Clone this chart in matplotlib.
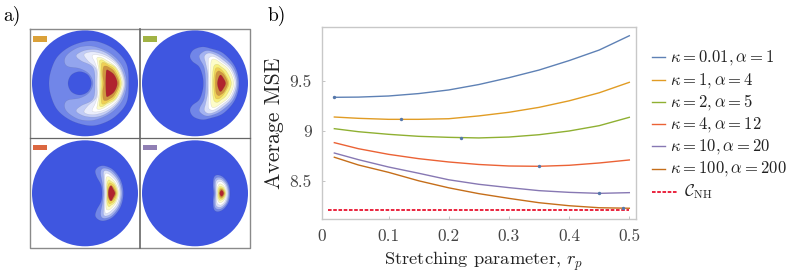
"""MSE curves vs stretching parameter, with the four filter maps on the left."""

import matplotlib
matplotlib.use("Agg")
import matplotlib.pyplot as plt
import numpy as np
from matplotlib.patches import Polygon, Rectangle

plt.rcParams["font.family"] = "cmr10"
plt.rcParams["mathtext.fontset"] = "cm"

# panel b data
rp = [0.01, 0.05, 0.1, 0.15, 0.2, 0.25, 0.3, 0.35, 0.4, 0.45, 0.5]
mse_k001 = [9.335, 9.337, 9.348, 9.372, 9.408, 9.462, 9.53, 9.606, 9.70, 9.805, 9.947]
mse_k1 = [9.139, 9.126, 9.116, 9.116, 9.122, 9.150, 9.186, 9.235, 9.30, 9.38, 9.484]
mse_k2 = [9.023, 8.993, 8.967, 8.947, 8.937, 8.931, 8.94, 8.963, 9.0, 9.053, 9.136]
mse_k4 = [8.884, 8.824, 8.768, 8.725, 8.692, 8.667, 8.652, 8.649, 8.659, 8.682, 8.712]
mse_k10 = [8.781, 8.715, 8.642, 8.58, 8.515, 8.47, 8.437, 8.407, 8.39, 8.38, 8.387]
mse_k100 = [8.739, 8.662, 8.589, 8.505, 8.435, 8.377, 8.33, 8.287, 8.257, 8.237, 8.232]
mse_nh = [8.215, 8.215]
rp_nh = [0.0, 0.5]
best_rp = [0.01, 0.12, 0.22, 0.35, 0.45, 0.49]
best_mse = [9.335, 9.116, 8.93, 8.649, 8.38, 8.235]

series = [mse_k001, mse_k1, mse_k2, mse_k4, mse_k10, mse_k100]
labels = [
    r"$\kappa = 0.01, \alpha = 1$",
    r"$\kappa = 1, \alpha = 4$",
    r"$\kappa = 2, \alpha = 5$",
    r"$\kappa = 4, \alpha = 12$",
    r"$\kappa = 10, \alpha = 20$",
    r"$\kappa = 100, \alpha = 200$",
]
colors = ["#5e81b5", "#e19c24", "#8fb032", "#eb6235", "#8778b3", "#c56e1a"]

# panel a contours: upper half outlines, offsets from circle centre (R = 159)
disc_a = [(131, 0), (125, 57), (94, 97), (54, 120), (12, 127), (-41, 112), (-81, 82), (-101, 42), (-108, 0)]
hole_a = [(19, 0), (9, 25), (-16, 35), (-41, 25), (-51, 0)]
contours_a = [
    [(125, 0), (113, 50), (79, 88), (30, 110), (-11, 110), (-40, 97), (-58, 80), (-61, 62), (-50, 50), (-15, 44), (12, 28), (24, 0)],
    [(121, 0), (106, 50), (74, 84), (40, 100), (5, 100), (-20, 90), (-26, 80), (-11, 67), (24, 47), (30, 0)],
    [(118, 0), (102, 50), (70, 80), (35, 93), (10, 93), (-3, 85), (9, 67), (34, 42), (35, 0)],
    [(116, 0), (99, 48), (66, 76), (40, 85), (24, 85), (22, 78), (30, 62), (38, 35), (39, 0)],
    [(113, 0), (96, 45), (63, 70), (45, 78), (36, 76), (37, 65), (42, 35), (43, 0)],
    [(109, 0), (93, 45), (65, 62), (52, 70), (44, 68), (44, 55), (47, 0)],
    [(105, 0), (90, 40), (70, 55), (58, 62), (50, 60), (49, 40), (51, 0)],
    [(102, 0), (88, 35), (72, 48), (62, 52), (55, 48), (53, 25), (56, 0)],
    [(97, 0), (88, 25), (72, 38), (65, 40), (63, 30), (62, 0)],
]
contours_b = [
    [(132, 0), (120, 50), (85, 90), (45, 105), (20, 109), (-5, 100), (-15, 82), (-8, 66), (12, 50), (22, 25), (25, 0)],
    [(128, 0), (115, 48), (80, 82), (50, 96), (30, 97), (14, 85), (15, 72), (28, 45), (32, 0)],
    [(124, 0), (110, 45), (78, 75), (55, 88), (38, 90), (28, 80), (32, 60), (38, 30), (38, 0)],
    [(120, 0), (106, 42), (76, 68), (57, 80), (44, 78), (40, 65), (42, 0)],
    [(116, 0), (102, 40), (76, 62), (60, 72), (50, 70), (47, 50), (47, 0)],
    [(109, 0), (95, 35), (78, 50), (67, 57), (57, 52), (53, 30), (52, 0)],
    [(102, 0), (90, 28), (78, 42), (68, 47), (60, 40), (56, 0)],
    [(98, 0), (88, 25), (76, 35), (70, 37), (63, 28), (61, 0)],
    [(92, 0), (85, 16), (77, 25), (71, 18), (67, 0)],
]
contours_c = [
    [(115, 0), (107, 40), (85, 70), (60, 82), (42, 80), (31, 68), (35, 50), (48, 25), (51, 0)],
    [(111, 0), (103, 38), (82, 66), (62, 75), (50, 72), (47, 58), (52, 30), (55, 0)],
    [(107, 0), (100, 35), (80, 60), (64, 68), (56, 64), (56, 45), (58, 0)],
    [(104, 0), (96, 32), (79, 52), (66, 60), (60, 56), (60, 30), (61, 0)],
    [(101, 0), (93, 28), (78, 46), (68, 50), (63, 42), (64, 0)],
    [(98, 0), (90, 26), (78, 36), (71, 40), (66, 28), (66, 0)],
    [(95, 0), (88, 22), (78, 30), (72, 30), (67, 15), (67, 0)],
    [(93, 0), (86, 16), (79, 23), (72, 18), (69, 0)],
    [(90, 0), (84, 14), (78, 23), (72, 14), (70, 0)],
]
contours_d = [
    [(105, 0), (100, 28), (85, 48), (68, 55), (57, 48), (54, 25), (56, 0)],
    [(102, 0), (97, 26), (84, 43), (70, 48), (60, 42), (58, 22), (60, 0)],
    [(99, 0), (94, 24), (83, 38), (72, 42), (63, 36), (62, 18), (63, 0)],
    [(96, 0), (91, 22), (82, 33), (74, 35), (66, 28), (65, 0)],
    [(94, 0), (89, 18), (80, 27), (72, 27), (67, 15), (67, 0)],
    [(92, 0), (87, 15), (80, 20), (73, 20), (69, 10), (69, 0)],
    [(90, 0), (85, 12), (79, 16), (74, 14), (71, 0)],
    [(88, 0), (84, 10), (79, 13), (75, 10), (73, 0)],
    [(86, 0), (83, 7), (79, 9), (76, 6), (74, 0)],
]
band_colors = ["#93a5ee", "#c3cdf6", "#eaedfc", "#ffffff", "#fdfcc8", "#f7ef7e", "#efcf55", "#cf9540", "#b0232e"]
band_colors_small = ["#7186e8", "#a3b2f1", "#dbe1fa", "#ffffff", "#fdfcc8", "#f7ef7e", "#efcf55", "#cf9540", "#b0232e"]
swatch_colors = ["#d99c2e", "#9caf3a", "#d95f35", "#8a78b0"]
BACK_BLUE = "#3f56e0"


def closed_outline(half):
    """Mirror a half outline and run a closed Catmull-Rom through it."""
    half = np.asarray(half, dtype=float)
    mirror = half[-2:0:-1] * [1, -1]
    pts = np.vstack([half, mirror])
    out = []
    n = len(pts)
    for i in range(n):
        p0, p1, p2, p3 = pts[i - 1], pts[i], pts[(i + 1) % n], pts[(i + 2) % n]
        for t in np.linspace(0, 1, 12, endpoint=False):
            out.append(0.5 * (2 * p1 + (p2 - p0) * t
                              + (2 * p0 - 5 * p1 + 4 * p2 - p3) * t**2
                              + (3 * p1 - p0 - 3 * p2 + p3) * t**3))
    return np.array(out)


def draw_contour(ax, cx, cy, half, color, edge="#55555533"):
    xy = closed_outline(half) / 3.0
    xy = xy * [1, -1] + [cx, cy]
    ax.add_patch(Polygon(xy, closed=True, facecolor=color, edgecolor=edge, lw=0.3))


fig = plt.figure(figsize=(7.89, 2.74), dpi=100)

# overlay in pixel coordinates for panel a, the letters and the key
over = fig.add_axes([0, 0, 1, 1])
over.set_xlim(0, 789)
over.set_ylim(274, 0)
over.axis("off")

centers = [(85, 83.3), (195, 83.3), (85, 193.3), (195, 193.3)]
all_contours = [contours_a, contours_b, contours_c, contours_d]
swatch_xy = [(33, 36), (143.5, 36), (33, 144.7), (143.5, 144.7)]

for k, ((cx, cy), cont) in enumerate(zip(centers, all_contours)):
    over.add_patch(plt.Circle((cx, cy), 53, facecolor=BACK_BLUE, edgecolor="none"))
    if k == 0:
        draw_contour(over, cx, cy, disc_a, "#7186e8")
        draw_contour(over, cx, cy, hole_a, BACK_BLUE)
    palette = band_colors if k == 0 else band_colors_small
    for half, col in zip(cont, palette):
        draw_contour(over, cx, cy, half, col)
    over.add_patch(Rectangle(swatch_xy[k], 14, 5.6, facecolor=swatch_colors[k], edgecolor="none", alpha=0.95))

# panel grid lines
over.plot([29.7, 250, 250, 29.7, 29.7], [28.7, 28.7, 248.3, 248.3, 28.7], color="#8a8a8a", lw=1.0)
over.plot([139.7, 139.7], [28.7, 248.3], color="#666666", lw=1.2)
over.plot([29.7, 250], [138.3, 138.3], color="#666666", lw=0.9)

over.text(3, 16, "a)", fontsize=14, va="center", ha="left")
over.text(268, 16, "b)", fontsize=14, va="center", ha="left")

# panel b
ax = fig.add_axes([321.7 / 789, 55 / 274, 314 / 789, 192.3 / 274])
ax.patch.set_alpha(0)
for vals, col in zip(series, colors):
    ax.plot(rp, vals, color=col, lw=1.0)
ax.plot(rp_nh, mse_nh, color="#e8132f", lw=1.3, dashes=(2.0, 0.9))
ax.scatter(best_rp, best_mse, s=6, color="#5577aa", zorder=5, linewidths=0)

ax.set_xlim(-0.011, 0.5106)
ax.set_ylim(8.125, 10.037)
ax.set_xticks([-0.011, 0.1, 0.2, 0.3, 0.4, 0.5])
ax.set_xticklabels(["0", "0.1", "0.2", "0.3", "0.4", "0.5"])
ax.set_yticks([8.5, 9, 9.5])
ax.set_yticklabels(["8.5", "9", "9.5"])
ax.tick_params(direction="in", length=2, width=0.7, color="#c4c4c4", labelsize=12.5, labelcolor="#444444", pad=7)
for s in ax.spines.values():
    s.set_color("#c8c8c8")
    s.set_linewidth(1.0)

over.text(484, 261, r"Stretching parameter, $r_p$", fontsize=13.3, ha="center", va="center", color="#222222")
over.text(274.5, 123, "Average MSE", fontsize=15.7, rotation=90, ha="center", va="center", color="#222222")

# key
key_y = [57.3, 80, 102, 124, 146, 168.7]
for y, lab, col in zip(key_y, labels, colors):
    over.plot([652, 665], [y, y], color=col, lw=1.0)
    over.text(670, y, lab, fontsize=12, va="center", ha="left", color="#222222")
over.plot([652, 677], [191.7, 191.7], color="#e8132f", lw=1.3, dashes=(2.0, 0.9))
over.text(684, 192, r"$\mathcal{C}_{\mathrm{NH}}$", fontsize=12, va="center", ha="left", color="#222222")

fig.savefig("out.png", dpi=100)
